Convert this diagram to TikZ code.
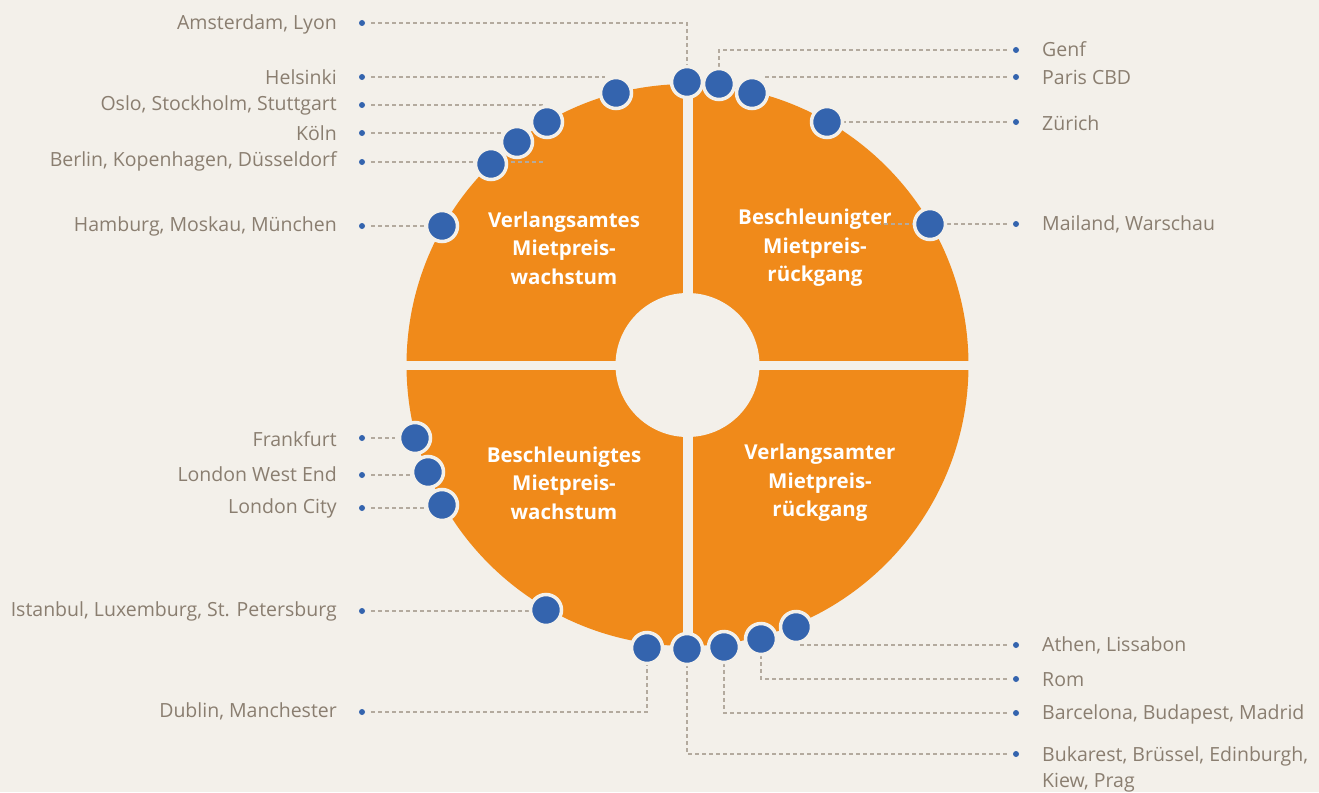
\documentclass[tikz,border=0pt]{standalone}
\usepackage{fontspec}
\setmainfont{Open Sans}
\begin{document}
\definecolor{bgc}{HTML}{F3F0EA}
\definecolor{ringc}{HTML}{F08A1A}
\definecolor{dotc}{HTML}{3464AE}
\definecolor{txtc}{HTML}{8A7E70}
\definecolor{dashc}{HTML}{B3AA9E}
\begin{tikzpicture}[x=1pt,y=-1pt,
  city/.style={circle,inner sep=0pt,minimum size=31pt,fill=dotc,draw=bgc,line width=3.5pt},
  tip/.style={circle,inner sep=0pt,minimum size=6pt,fill=dotc},
  leader/.style={draw=dashc,line width=1.7pt,dash pattern=on 4pt off 3pt,shorten <=6pt},
  lefttxt/.style={anchor=east,inner sep=0pt,text=txtc,font=\fontsize{19.5}{25}\selectfont},
  righttxt/.style={anchor=west,inner sep=0pt,text=txtc,font=\fontsize{19.5}{26}\selectfont,align=left},
  quad/.style={text=white,font=\bfseries\fontsize{20.5}{28.5}\selectfont,align=center}]
% canvas
\fill[bgc] (0,0) rectangle (1319,792);
\useasboundingbox (0,0) rectangle (1319,792);
% ring split into four quadrants
\fill[ringc] (687.5,365) circle[radius=281];
\fill[bgc] (687.5,365) circle[radius=72];
\fill[bgc] (683,80) rectangle (692.5,660);
\fill[bgc] (400,360.5) rectangle (975,369.5);
% quadrant titles
\node[quad] (q1) at (564,248) {Verlangsamtes\\Mietpreis-\\wachstum};
\node[quad] (q2) at (815,248) {Beschleunigter\\Mietpreis-\\rückgang};
\node[quad] (q3) at (564,483) {Beschleunigtes\\Mietpreis-\\wachstum};
\node[quad] (q4) at (820,483) {Verlangsamter\\Mietpreis-\\rückgang};
% label tips (left)
\node[tip] (tA) at (362,23) {};
\node[tip] (tH) at (362,77) {};
\node[tip] (tO) at (362,105) {};
\node[tip] (tK) at (362,133) {};
\node[tip] (tB) at (362,162) {};
\node[tip] (tHa) at (362,226) {};
\node[tip] (tF) at (362,438) {};
\node[tip] (tW) at (362,475) {};
\node[tip] (tC) at (362,508) {};
\node[tip] (tI) at (362,611) {};
\node[tip] (tD) at (362,712) {};
% label tips (right)
\node[tip] (tG) at (1016,50) {};
\node[tip] (tP) at (1016,77) {};
\node[tip] (tZ) at (1016,122) {};
\node[tip] (tM) at (1016,224) {};
\node[tip] (tAt) at (1016,645) {};
\node[tip] (tR) at (1016,679) {};
\node[tip] (tBa) at (1016,713) {};
\node[tip] (tBu) at (1016,754) {};
% labels
\node[lefttxt] at (337,24) {Amsterdam, Lyon};
\node[lefttxt] at (337,77) {Helsinki};
\node[lefttxt] at (337,105) {Oslo, Stockholm, Stuttgart};
\node[lefttxt] at (337,133) {Köln};
\node[lefttxt] at (337,161) {Berlin, Kopenhagen, Düsseldorf};
\node[lefttxt] at (337,226) {Hamburg, Moskau, München};
\node[lefttxt] at (337,439) {Frankfurt};
\node[lefttxt] at (337,474) {London West End};
\node[lefttxt] at (337,508) {London City};
\node[lefttxt] at (337,611) {Istanbul, Luxemburg, St. Petersburg};
\node[lefttxt] at (337,711) {Dublin, Manchester};
\node[righttxt] at (1042,49) {Genf};
\node[righttxt] at (1042,77) {Paris CBD};
\node[righttxt] at (1042,123) {Zürich};
\node[righttxt] at (1042,224) {Mailand, Warschau};
\node[righttxt] at (1042,645) {Athen, Lissabon};
\node[righttxt] at (1042,680) {Rom};
\node[righttxt] at (1042,714) {Barcelona, Budapest, Madrid};
\node[righttxt,anchor=north west] at (1042,746) {Bukarest, Brüssel, Edinburgh,\\Kiew, Prag};
% free ends of the short leaders
\coordinate (eH) at (605,77);
\coordinate (eO) at (543,105);
\coordinate (eK) at (502,133);
\coordinate (eB) at (544,162);
\coordinate (eP) at (764,77);
\coordinate (eM) at (880,224);
\coordinate (eI) at (530,611);
\coordinate (eAt) at (800,645);
\coordinate (eF) at (395,438);
\coordinate (eW) at (410,475);
\coordinate (eC) at (425,508);
% city markers sit on the rim
\coordinate (dA) at (687,82);
\coordinate (dG) at (719,84);
\coordinate (dP) at (752,93);
\coordinate (dZ) at (827,122);
\coordinate (dM) at (930,224);
\coordinate (dH) at (616,93);
\coordinate (dO) at (547,122);
\coordinate (dK) at (517,142);
\coordinate (dB) at (491,164);
\coordinate (dHa) at (442,226);
\coordinate (dF) at (415,438);
\coordinate (dW) at (428,472);
\coordinate (dC) at (442,505);
\coordinate (dI) at (546,610);
\coordinate (dD) at (647,648);
\coordinate (dBu) at (687,649);
\coordinate (dBa) at (724,647);
\coordinate (dR) at (761,639);
\coordinate (dAt) at (796,627);
% leaders
\draw[leader] (tA) -| (dA);
\draw[leader] (tH) -- (eH);
\draw[leader] (tO) -- (eO);
\draw[leader] (tK) -- (eK);
\draw[leader] (tB) -- (eB);
\draw[leader] (tHa) -- (dHa);
\draw[leader] (tF) -- (eF);
\draw[leader] (tW) -- (eW);
\draw[leader] (tC) -- (eC);
\draw[leader] (tI) -- (eI);
\draw[leader] (tD) -| (dD);
\draw[leader] (tG) -| (dG);
\draw[leader] (tP) -- (eP);
\draw[leader] (tZ) -- (dZ);
\draw[leader] (tM) -- (eM);
\draw[leader] (tAt) -- (eAt);
\draw[leader] (tR) -| (dR);
\draw[leader] (tBa) -| (dBa);
\draw[leader] (tBu) -| (dBu);
% markers
\foreach \d in {dA,dG,dP,dZ,dM,dH,dO,dK,dB,dHa,dF,dW,dC,dI,dD,dBu,dBa,dR,dAt}
  \node[city] (n\d) at (\d) {};
\end{tikzpicture}
\end{document}
